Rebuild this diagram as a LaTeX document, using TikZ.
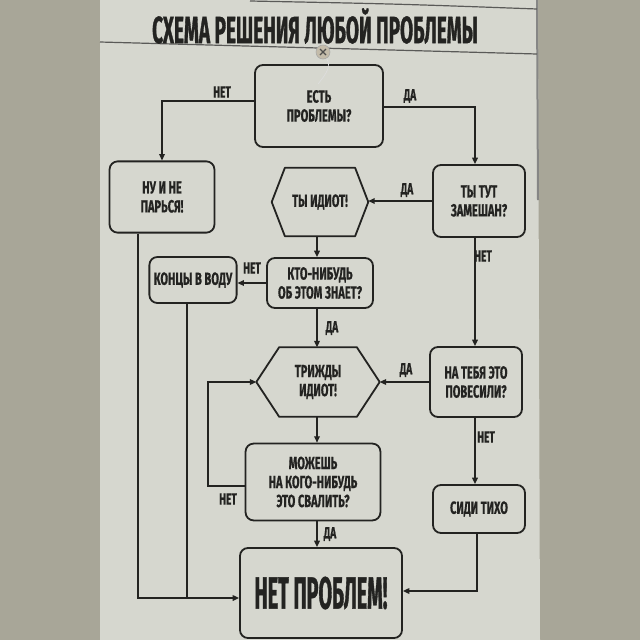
\documentclass[tikz,border=0pt]{standalone}
\usepackage{fontspec}
\usetikzlibrary{arrows.meta,calc}

\newfontfamily\boxfont[FakeStretch=0.63,FakeBold=0.6]{Fira Sans Bold}
\newfontfamily\headfont[FakeStretch=0.5,FakeBold=0.8]{Fira Sans Bold}
\newfontfamily\bigfont[FakeStretch=0.44,FakeBold=0.8]{Fira Sans Bold}

\definecolor{wall}{RGB}{168,166,152}
\definecolor{sheet}{RGB}{214,215,207}
\definecolor{ink}{RGB}{35,35,33}
\definecolor{pinc}{RGB}{196,188,170}

\begin{document}
\begin{tikzpicture}[
        x=.025cm, y=-.025cm,
        box/.style={draw=ink, line width=.45mm, rounded corners=2mm, align=center,
            inner sep=0pt, text=ink, font=\boxfont\fontsize{12.5}{13.5}\selectfont},
        hexbox/.style={align=center, inner sep=0pt, text=ink,
            font=\boxfont\fontsize{12.5}{13.5}\selectfont},
        hex/.style={draw=ink, line width=.45mm, line join=round},
        wire/.style={line width=.35mm, draw=ink},
        flow/.style={wire, -{Triangle[length=1.6mm, width=1.4mm]}},
        lbl/.style={text=ink, font=\boxfont\fontsize{11.5}{13}\selectfont},
    ]
    %% wall and sheet
    \fill[wall] (0,0) rectangle (640,640);
    \useasboundingbox (0,0) rectangle (640,640);
    \fill[sheet] (100,0) -- (538,0) -- (540,640) -- (100,640) -- cycle;
    \draw[line width=.5mm, draw=ink!55] (537,0) -- (538,200);

    %% title band
    \draw[line width=.3mm, draw=ink!75] (250,1) .. controls (400,4) .. (537,9);
    \draw[line width=.3mm, draw=ink!75] (100,42) -- (537,54);
    \node[text=ink, font=\headfont\fontsize{27}{30}\selectfont] (title) at (315,26)
        {СХЕМА РЕШЕНИЯ ЛЮБОЙ ПРОБЛЕМЫ};

    %% boxes
    \node[box, minimum width=3.2cm, minimum height=2.05cm] (q1) at (319,106) {ЕСТЬ\\ПРОБЛЕМЫ?};
    \node[box, minimum width=2.62cm, minimum height=1.78cm] (nu) at (162,197) {НУ И НЕ\\ПАРЬСЯ!};
    \node[box, minimum width=2.3cm, minimum height=1.8cm] (tut) at (479,201) {ТЫ ТУТ\\ЗАМЕШАН?};
    \node[hexbox, minimum width=2.4cm, minimum height=1.7cm] (idiot) at (320,202) {ТЫ ИДИОТ!};
    \node[box, minimum width=2.65cm, minimum height=1.25cm] (kto) at (320,283) {КТО-НИБУДЬ\\ОБ ЭТОМ ЗНАЕТ?};
    \node[box, minimum width=2.18cm, minimum height=1.15cm] (koncy) at (193,280) {КОНЦЫ В ВОДУ};
    \node[hexbox, minimum width=3.07cm, minimum height=1.72cm] (trizh) at (318,382) {ТРИЖДЫ\\ИДИОТ!};
    \node[box, minimum width=2.3cm, minimum height=1.75cm] (natebya) at (476,382) {НА ТЕБЯ ЭТО\\ПОВЕСИЛИ?};
    \node[box, minimum width=3.37cm, minimum height=1.92cm] (mozh) at (313,482) {МОЖЕШЬ\\НА КОГО-НИБУДЬ\\ЭТО СВАЛИТЬ?};
    \node[box, minimum width=2.3cm, minimum height=1.2cm] (sidi) at (479,509) {СИДИ ТИХО};
    \node[box, minimum width=4.05cm, minimum height=2.25cm,
        font=\bigfont\fontsize{32}{36}\selectfont] (netp) at (321,593) {НЕТ ПРОБЛЕМ!};

    %% hexagons round the two verdicts
    \draw[hex] (idiot.west) -- ([xshift=3.3mm]idiot.north west) -- ([xshift=-3.3mm]idiot.north east)
        -- (idiot.east) -- ([xshift=-3.3mm]idiot.south east) -- ([xshift=3.3mm]idiot.south west) -- cycle;
    \draw[hex] (trizh.west) -- ([xshift=5.7mm]trizh.north west) -- ([xshift=-5.7mm]trizh.north east)
        -- (trizh.east) -- ([xshift=-5.7mm]trizh.south east) -- ([xshift=5.7mm]trizh.south west) -- cycle;

    %% pin
    \draw[line width=.15mm, draw=white!85!ink] (324,56) .. controls (334,64) and (326,74) .. (318,84);
    \filldraw[fill=pinc, draw=ink!40] (323,52) circle (7);
    \draw[line width=.3mm, draw=ink!80] (320,49) -- (326,55) (326,49) -- (320,55);

    %% connectors
    \coordinate (mid) at (317,0);
    \coordinate (rside) at (475,0);
    \coordinate (nufoot) at (138,598);
    \coordinate (kfoot) at (187,597);
    \coordinate (sfoot) at (477,591);
    \coordinate (loop) at (208,486);

    \draw[flow] ([yshift=1.3mm]q1.west) -| (nu.north);
    \draw[flow] ([yshift=-.2mm]q1.east) -| (tut.north -| rside);
    \draw[flow] (tut.west) -- (tut.west -| idiot.east);
    \draw[flow] (idiot.south -| mid) -- (kto.north -| mid);
    \draw[flow] (kto.west) -- (kto.west -| koncy.east);
    \draw[flow] (tut.south -| rside) -- (natebya.north -| rside);
    \draw[flow] (kto.south -| mid) -- (trizh.north -| mid);
    \draw[flow] (natebya.west) -- (natebya.west -| trizh.east);
    \draw[flow] (trizh.south -| mid) -- (mozh.north -| mid);
    \draw[flow] (mozh.west |- loop) -- (loop) |- (trizh.west);
    \draw[flow] (mozh.south -| mid) -- (netp.north -| mid);
    \draw[flow] (natebya.south -| rside) -- (sidi.north -| rside);
    \draw[flow] (nu.south -| nufoot) -- (nufoot) -- (nufoot -| netp.west);
    \draw[wire] (koncy.south -| kfoot) -- (kfoot);
    \draw[flow] (sidi.south -| sfoot) -- (sfoot) -- (sfoot -| netp.east);

    %% answers
    \node[lbl] (l1) at (222,92) {НЕТ};
    \node[lbl] (l2) at (410,96) {ДА};
    \node[lbl] (l3) at (407,190) {ДА};
    \node[lbl] (l4) at (252,268) {НЕТ};
    \node[lbl] (l5) at (483,256) {НЕТ};
    \node[lbl] (l6) at (332,328) {ДА};
    \node[lbl] (l7) at (406,370) {ДА};
    \node[lbl] (l8) at (228,499) {НЕТ};
    \node[lbl] (l9) at (486,437) {НЕТ};
    \node[lbl] (l10) at (330,534) {ДА};
\end{tikzpicture}
\end{document}
